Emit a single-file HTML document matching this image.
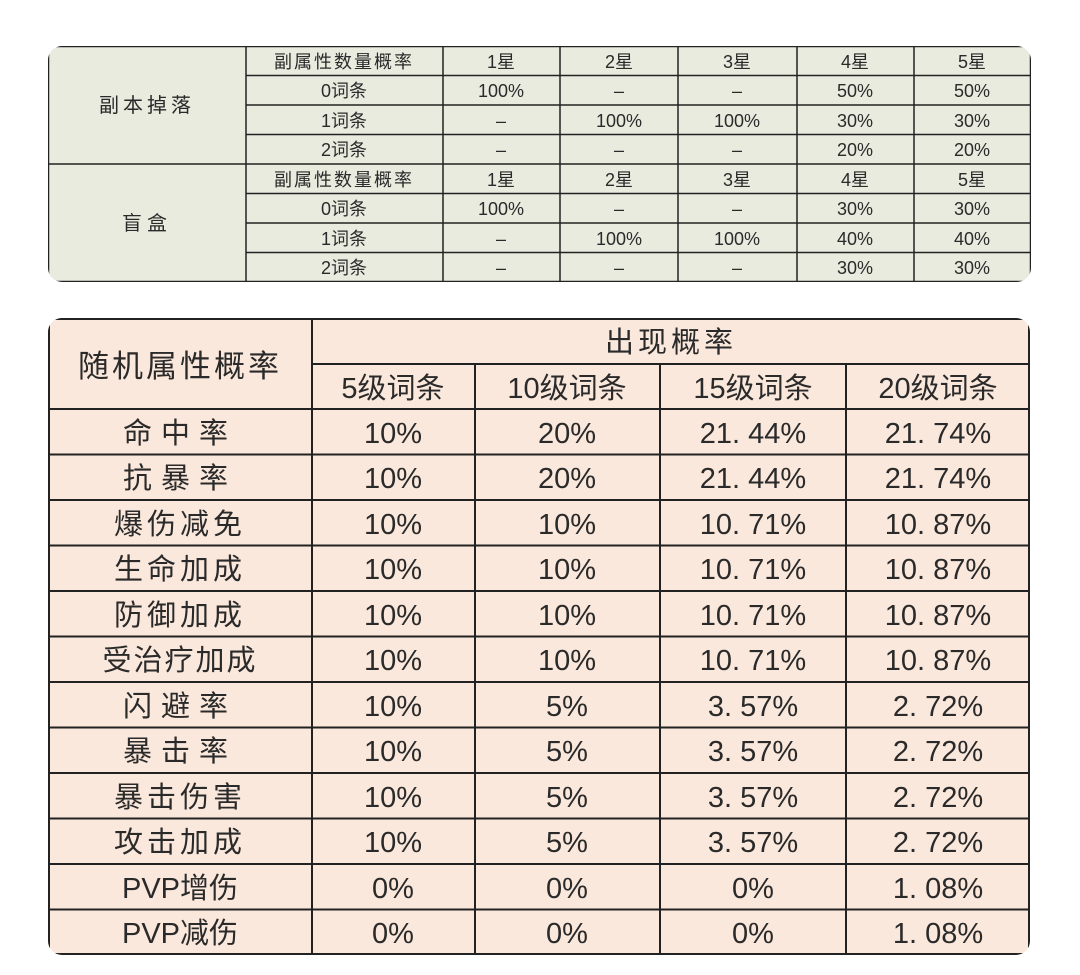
<!DOCTYPE html>
<html><head><meta charset="utf-8"><style>
html,body{margin:0;padding:0;background:#fff;}
svg{display:block;}
text{font-family:"Liberation Sans","Noto Sans CJK SC",sans-serif;fill:#2a2a2a;text-anchor:middle;}
.a{font-size:18px;}
.b{font-size:29px;}
</style></head><body>
<svg width="1080" height="975" viewBox="0 0 1080 975" xmlns="http://www.w3.org/2000/svg">
<defs>
<clipPath id="c1"><rect x="48" y="46" width="983" height="236" rx="14"/></clipPath>
<clipPath id="c2"><rect x="48" y="318" width="982" height="637" rx="14"/></clipPath>
</defs>
<rect x="48" y="46" width="983" height="236" rx="14" fill="#e9ebdf"/>
<g stroke="#222" stroke-width="1.5" clip-path="url(#c1)">
<line x1="48" y1="46.5" x2="1031" y2="46.5"/>
<line x1="48" y1="164" x2="1031" y2="164"/>
<line x1="48" y1="281.5" x2="1031" y2="281.5"/>
<line x1="246" y1="75.5" x2="1031" y2="75.5"/>
<line x1="246" y1="105" x2="1031" y2="105"/>
<line x1="246" y1="134.5" x2="1031" y2="134.5"/>
<line x1="246" y1="193.5" x2="1031" y2="193.5"/>
<line x1="246" y1="223" x2="1031" y2="223"/>
<line x1="246" y1="252.5" x2="1031" y2="252.5"/>
<line x1="48.5" y1="46" x2="48.5" y2="282"/>
<line x1="246" y1="46" x2="246" y2="282"/>
<line x1="443" y1="46" x2="443" y2="282"/>
<line x1="560" y1="46" x2="560" y2="282"/>
<line x1="678" y1="46" x2="678" y2="282"/>
<line x1="797" y1="46" x2="797" y2="282"/>
<line x1="914" y1="46" x2="914" y2="282"/>
<line x1="1030.5" y1="46" x2="1030.5" y2="282"/>
</g>
<g class="a">
<text x="147" y="112" style="font-size:20px;letter-spacing:4px">副本掉落</text>
<text x="147" y="230" style="font-size:20px;letter-spacing:5px">盲盒</text>
<text x="344" y="68" style="letter-spacing:2px">副属性数量概率</text>
<text x="501" y="68">1星</text><text x="619" y="68">2星</text><text x="737" y="68">3星</text><text x="855" y="68">4星</text><text x="972" y="68">5星</text>
<text x="344" y="97">0词条</text><text x="501" y="97">100%</text><text x="619" y="97">–</text><text x="737" y="97">–</text><text x="855" y="97">50%</text><text x="972" y="97">50%</text>
<text x="344" y="127">1词条</text><text x="501" y="127">–</text><text x="619" y="127">100%</text><text x="737" y="127">100%</text><text x="855" y="127">30%</text><text x="972" y="127">30%</text>
<text x="344" y="156">2词条</text><text x="501" y="156">–</text><text x="619" y="156">–</text><text x="737" y="156">–</text><text x="855" y="156">20%</text><text x="972" y="156">20%</text>
<text x="344" y="186" style="letter-spacing:2px">副属性数量概率</text>
<text x="501" y="186">1星</text><text x="619" y="186">2星</text><text x="737" y="186">3星</text><text x="855" y="186">4星</text><text x="972" y="186">5星</text>
<text x="344" y="215">0词条</text><text x="501" y="215">100%</text><text x="619" y="215">–</text><text x="737" y="215">–</text><text x="855" y="215">30%</text><text x="972" y="215">30%</text>
<text x="344" y="245">1词条</text><text x="501" y="245">–</text><text x="619" y="245">100%</text><text x="737" y="245">100%</text><text x="855" y="245">40%</text><text x="972" y="245">40%</text>
<text x="344" y="274">2词条</text><text x="501" y="274">–</text><text x="619" y="274">–</text><text x="737" y="274">–</text><text x="855" y="274">30%</text><text x="972" y="274">30%</text>
</g>
<rect x="48" y="318" width="982" height="637" rx="14" fill="#fbe8dc"/>
<g stroke="#222" stroke-width="2" clip-path="url(#c2)">
<line x1="48" y1="319" x2="1030" y2="319"/>
<line x1="312" y1="364" x2="1030" y2="364"/>
<line x1="48" y1="409" x2="1030" y2="409"/>
<line x1="48" y1="454.5" x2="1030" y2="454.5"/>
<line x1="48" y1="500" x2="1030" y2="500"/>
<line x1="48" y1="545.5" x2="1030" y2="545.5"/>
<line x1="48" y1="591" x2="1030" y2="591"/>
<line x1="48" y1="636.5" x2="1030" y2="636.5"/>
<line x1="48" y1="682" x2="1030" y2="682"/>
<line x1="48" y1="727.5" x2="1030" y2="727.5"/>
<line x1="48" y1="773" x2="1030" y2="773"/>
<line x1="48" y1="818.5" x2="1030" y2="818.5"/>
<line x1="48" y1="864" x2="1030" y2="864"/>
<line x1="48" y1="909.5" x2="1030" y2="909.5"/>
<line x1="48" y1="954" x2="1030" y2="954"/>
<line x1="49" y1="318" x2="49" y2="955"/>
<line x1="312" y1="318" x2="312" y2="955"/>
<line x1="475" y1="364" x2="475" y2="955"/>
<line x1="660" y1="364" x2="660" y2="955"/>
<line x1="846" y1="364" x2="846" y2="955"/>
<line x1="1029" y1="318" x2="1029" y2="955"/>
</g>
<g class="b">
<text x="180" y="377" style="font-size:31px;letter-spacing:3px">随机属性概率</text>
<text x="671" y="352" style="letter-spacing:4px">出现概率</text>
<text x="393" y="398">5级词条</text><text x="567" y="398">10级词条</text><text x="753" y="398">15级词条</text><text x="938" y="398">20级词条</text>
</g>
<g class="b">
<text x="180" y="443" style="letter-spacing:9px">命中率</text><text x="393" y="443">10%</text><text x="567" y="443">20%</text><text x="753" y="443">21. 44%</text><text x="938" y="443">21. 74%</text>
<text x="180" y="488" style="letter-spacing:9px">抗暴率</text><text x="393" y="488">10%</text><text x="567" y="488">20%</text><text x="753" y="488">21. 44%</text><text x="938" y="488">21. 74%</text>
<text x="180" y="534" style="letter-spacing:4px">爆伤减免</text><text x="393" y="534">10%</text><text x="567" y="534">10%</text><text x="753" y="534">10. 71%</text><text x="938" y="534">10. 87%</text>
<text x="180" y="579" style="letter-spacing:4px">生命加成</text><text x="393" y="579">10%</text><text x="567" y="579">10%</text><text x="753" y="579">10. 71%</text><text x="938" y="579">10. 87%</text>
<text x="180" y="625" style="letter-spacing:4px">防御加成</text><text x="393" y="625">10%</text><text x="567" y="625">10%</text><text x="753" y="625">10. 71%</text><text x="938" y="625">10. 87%</text>
<text x="180" y="670" style="letter-spacing:2px">受治疗加成</text><text x="393" y="670">10%</text><text x="567" y="670">10%</text><text x="753" y="670">10. 71%</text><text x="938" y="670">10. 87%</text>
<text x="180" y="716" style="letter-spacing:9px">闪避率</text><text x="393" y="716">10%</text><text x="567" y="716">5%</text><text x="753" y="716">3. 57%</text><text x="938" y="716">2. 72%</text>
<text x="180" y="761" style="letter-spacing:9px">暴击率</text><text x="393" y="761">10%</text><text x="567" y="761">5%</text><text x="753" y="761">3. 57%</text><text x="938" y="761">2. 72%</text>
<text x="180" y="807" style="letter-spacing:4px">暴击伤害</text><text x="393" y="807">10%</text><text x="567" y="807">5%</text><text x="753" y="807">3. 57%</text><text x="938" y="807">2. 72%</text>
<text x="180" y="852" style="letter-spacing:4px">攻击加成</text><text x="393" y="852">10%</text><text x="567" y="852">5%</text><text x="753" y="852">3. 57%</text><text x="938" y="852">2. 72%</text>
<text x="180" y="898">PVP增伤</text><text x="393" y="898">0%</text><text x="567" y="898">0%</text><text x="753" y="898">0%</text><text x="938" y="898">1. 08%</text>
<text x="180" y="943">PVP减伤</text><text x="393" y="943">0%</text><text x="567" y="943">0%</text><text x="753" y="943">0%</text><text x="938" y="943">1. 08%</text>
</g>
</svg>
</body></html>
